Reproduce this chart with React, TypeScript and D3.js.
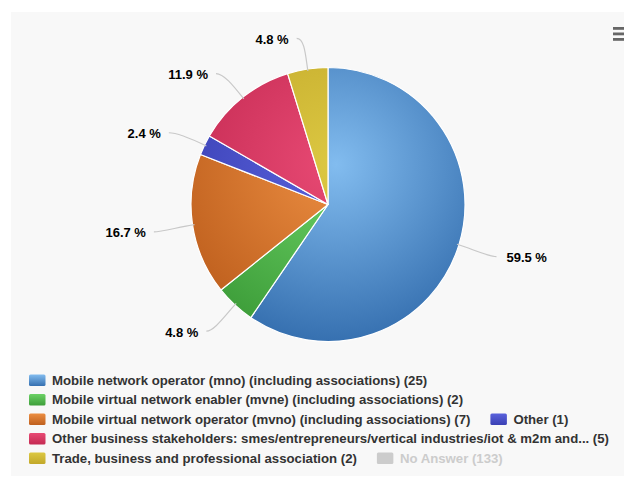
import * as React from 'react';
import * as d3 from 'd3';

// Responses per stakeholder group (pie order, clockwise from 12 o'clock)
const categories = [
  'Mobile network operator (mno) (including associations)',
  'Mobile virtual network enabler (mvne) (including associations)',
  'Mobile virtual network operator (mvno) (including associations)',
  'Other',
  'Other business stakeholders: smes/entrepreneurs/vertical industries/iot & m2m and...',
  'Trade, business and professional association',
];
const counts = [25, 2, 7, 1, 5, 2];
const noAnswerLabel = 'No Answer';
const noAnswerCount = 133;

// light (centre) / dark (rim) tone per slice
const lightColors = ['#82bcef', '#6cd266', '#ec8e42', '#5a62dc', '#e84a74', '#dcc842'];
const darkColors = ['#3670b0', '#3e9e3a', '#bf601e', '#3a40b4', '#c42a52', '#c2a82a'];

const W = 624;
const H = 471;
const FONT = "'Liberation Sans', Arial, sans-serif";

export default function App() {
  const ref = React.useRef<SVGSVGElement>(null);

  React.useEffect(() => {
    const svgEl = ref.current;
    if (!svgEl) return;
    const svg = d3.select(svgEl);
    svg.selectAll('*').remove();

    svg.append('rect')
      .attr('x', 3).attr('y', 4)
      .attr('width', W - 3).attr('height', 464)
      .attr('fill', '#f8f8f8');

    // export menu icon
    const menu = svg.append('g').attr('transform', 'translate(605,19)');
    [0, 5.5, 11].forEach((dy) => {
      menu.append('rect')
        .attr('x', 0).attr('y', dy)
        .attr('width', 19).attr('height', 2.8)
        .attr('fill', '#666');
    });

    const cx = 320;
    const cy = 196.5;
    const r = 137;
    const total = d3.sum(counts);

    const defs = svg.append('defs');
    counts.forEach((_, i) => {
      const g = defs.append('radialGradient')
        .attr('id', `slice-${i}`)
        .attr('gradientUnits', 'userSpaceOnUse')
        .attr('cx', 8).attr('cy', -40)
        .attr('r', r * 1.3);
      g.append('stop').attr('offset', '0').attr('stop-color', lightColors[i]);
      g.append('stop').attr('offset', '1').attr('stop-color', darkColors[i]);
      const lg = defs.append('linearGradient')
        .attr('id', `sym-${i}`)
        .attr('x1', 0).attr('y1', 0).attr('x2', 0).attr('y2', 1);
      lg.append('stop').attr('offset', '0').attr('stop-color', lightColors[i]);
      lg.append('stop').attr('offset', '1').attr('stop-color', darkColors[i]);
    });

    const pie = d3.pie<number>().sort(null).value((d) => d);
    const arcs = pie(counts);
    const arc = d3.arc<d3.PieArcDatum<number>>().innerRadius(0).outerRadius(r);

    const gPie = svg.append('g').attr('transform', `translate(${cx},${cy})`);
    gPie.selectAll('path.slice')
      .data(arcs)
      .enter()
      .append('path')
      .attr('class', 'slice')
      .attr('d', (d) => arc(d) || '')
      .attr('fill', (_d, i) => `url(#slice-${i})`)
      .attr('stroke', '#ffffff')
      .attr('stroke-width', 1.2)
      .attr('stroke-linejoin', 'round');

    // data labels with soft connectors
    const fmt = d3.format('.1f');
    const dist = 33;
    arcs.forEach((d) => {
      const a = (d.startAngle + d.endAngle) / 2;
      const sx = Math.sin(a);
      const sy = -Math.cos(a);
      const side = sx >= 0 ? 1 : -1;
      const ex = (r - 2) * sx;
      const ey = (r - 2) * sy;
      const px = (r + dist) * sx;
      const py = (r + dist) * sy;
      const mx = (r + 14) * sx;
      const my = (r + 14) * sy;
      const lx = px + side * 6;
      const ly = py + 2;
      gPie.append('path')
        .attr('d', `M${lx},${ly} C${px - side * 2},${ly} ${mx},${my} ${ex},${ey}`)
        .attr('fill', 'none')
        .attr('stroke', '#c8c8c8')
        .attr('stroke-width', 1.2);
      gPie.append('text')
        .attr('x', px + side * (side > 0 ? 16 : 14))
        .attr('y', py + 7.5)
        .attr('text-anchor', side > 0 ? 'start' : 'end')
        .style('font-family', FONT)
        .style('font-size', '13px')
        .style('font-weight', 'bold')
        .attr('fill', '#000')
        .text(`${fmt((d.data / total) * 100)} %`);
    });

    // legend, flowing left to right and wrapping
    const items = categories.map((c, i) => ({
      label: `${c} (${counts[i]})`,
      fill: `url(#sym-${i})`,
      color: '#333',
    }));
    items.push({ label: `${noAnswerLabel} (${noAnswerCount})`, fill: '#cccccc', color: '#cccccc' });

    const legend = svg.append('g');
    const left = 21;
    const maxRight = 622;
    const rowH = 19.5;
    let x = left;
    let row = 0;
    const top = 376.5;
    items.forEach((it) => {
      const g = legend.append('g');
      g.append('rect')
        .attr('x', 0).attr('y', -10)
        .attr('width', 16.5).attr('height', 11.5)
        .attr('rx', 1.5)
        .attr('fill', it.fill);
      const t = g.append('text')
        .attr('x', 23).attr('y', 0)
        .style('font-family', FONT)
        .style('font-size', '13.2px')
        .style('font-weight', 'bold')
        .attr('fill', it.color)
        .text(it.label);
      const w = 23 + (t.node() as SVGTextElement).getComputedTextLength();
      if (x > left && x + w > maxRight) {
        x = left;
        row += 1;
      }
      g.attr('transform', `translate(${x},${top + row * rowH})`);
      x += w + 20;
    });

    return () => {
      svg.selectAll('*').remove();
    };
  }, []);

  return <svg ref={ref} width={W} height={H} style={{ display: 'block' }} />;
}
